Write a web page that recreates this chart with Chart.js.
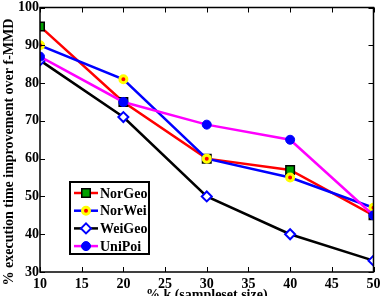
<!DOCTYPE html>
<html>
<head>
<meta charset="utf-8">
<script src="https://cdn.jsdelivr.net/npm/chart.js@4/dist/chart.umd.min.js"></script>
<style>
body { margin: 0; background: white; }
canvas { display: block; }
</style>
</head>
<body>
<canvas id="graphe" width="381" height="296"></canvas>
<script>
// valeurs
const kValues = [10, 20, 30, 40, 50]
const norGeo = [95, 75, 60, 57, 45]
const norWei = [90, 81, 60, 55, 47]
const weiGeo = [86, 71, 50, 40, 33]
const uniPoi = [87, 75, 69, 65, 45]
const nomsSeries = ["NorGeo", "NorWei", "WeiGeo", "UniPoi"]
const titreX = "% k (sampleset size)"
const titreY = "% execution time improvement over f-MMD"

const police = "bold 14px 'Liberation Serif', 'Times New Roman', serif"

function points(valeurs) {
    return kValues.map((k, i) => ({x: k, y: valeurs[i]}))
}

// cadre, petites graduations vers l'interieur et titres des axes
const pluginCadre = {
    id: "cadre",
    afterDraw(chart) {
        let ctx = chart.ctx
        let zone = chart.chartArea
        let sx = chart.scales.x
        let sy = chart.scales.y
        ctx.save()
        ctx.strokeStyle = "black"
        ctx.lineWidth = 1
        sx.ticks.forEach(t => {
            let px = Math.round(sx.getPixelForValue(t.value)) + 0.5
            ctx.beginPath()
            ctx.moveTo(px, zone.bottom); ctx.lineTo(px, zone.bottom - 5)
            ctx.moveTo(px, zone.top); ctx.lineTo(px, zone.top + 5)
            ctx.stroke()
        })
        sy.ticks.forEach(t => {
            let py = Math.round(sy.getPixelForValue(t.value)) + 0.5
            ctx.beginPath()
            ctx.moveTo(zone.left, py); ctx.lineTo(zone.left + 5, py)
            ctx.moveTo(zone.right, py); ctx.lineTo(zone.right - 5, py)
            ctx.stroke()
        })
        ctx.lineWidth = 1.5
        ctx.strokeRect(zone.left, zone.top, zone.right - zone.left, zone.bottom - zone.top)

        ctx.fillStyle = "black"
        ctx.font = police
        ctx.textAlign = "center"
        ctx.textBaseline = "top"
        ctx.fillText(titreX, (zone.left + zone.right) / 2, 288)

        ctx.font = "bold 14px 'Liberation Serif', 'Times New Roman', serif"
        ctx.translate(9, 152)
        ctx.rotate(-Math.PI / 2)
        ctx.textBaseline = "middle"
        ctx.fillText(titreY, 0, 0)
        ctx.restore()

        // legende dessinee a la main : trait + marqueur
        ctx.save()
        let lx = 70, ly = 182, lw = 79, lh = 72
        ctx.fillStyle = "white"
        ctx.fillRect(lx, ly, lw, lh)
        ctx.lineWidth = 2
        ctx.strokeStyle = "black"
        ctx.strokeRect(lx, ly, lw, lh)
        chart.data.datasets.forEach((ds, i) => {
            let y = ly + 11 + i * 17.7
            ctx.strokeStyle = ds.borderColor
            ctx.lineWidth = ds.borderWidth
            ctx.beginPath()
            ctx.moveTo(lx + 4, y); ctx.lineTo(lx + 28, y)
            ctx.stroke()
            ctx.fillStyle = ds.pointBackgroundColor
            ctx.strokeStyle = ds.pointBorderColor
            ctx.lineWidth = ds.pointBorderWidth
            Chart.helpers.drawPoint(ctx, {pointStyle: ds.pointStyle, radius: ds.pointRadius, borderWidth: ds.pointBorderWidth, rotation: 0}, lx + 16, y)
            ctx.fillStyle = "black"
            ctx.font = police
            ctx.textAlign = "left"
            ctx.textBaseline = "middle"
            ctx.fillText(ds.label, lx + 30, y + 1)
        })
        ctx.restore()
    }
}

new Chart(document.getElementById("graphe"), {
    type: "line",
    data: {
        datasets: [
            {
                label: nomsSeries[0],
                data: points(norGeo),
                borderColor: "#ff0000",
                borderWidth: 2.5,
                pointStyle: "rect",
                pointRadius: 6,
                pointBackgroundColor: "#00a000",
                pointBorderColor: "black",
                pointBorderWidth: 1.5,
                order: 3
            },
            {
                label: nomsSeries[1],
                data: points(norWei),
                borderColor: "#0000ff",
                borderWidth: 2.5,
                pointStyle: "circle",
                pointRadius: 3.5,
                pointBackgroundColor: "#ff0000",
                pointBorderColor: "#ffff00",
                pointBorderWidth: 3,
                order: 2
            },
            {
                label: nomsSeries[2],
                data: points(weiGeo),
                borderColor: "black",
                borderWidth: 2.5,
                pointStyle: "rectRot",
                pointRadius: 5,
                pointBackgroundColor: "white",
                pointBorderColor: "#0000ff",
                pointBorderWidth: 2,
                order: 1
            },
            {
                label: nomsSeries[3],
                data: points(uniPoi),
                borderColor: "#ff00ff",
                borderWidth: 2.5,
                pointStyle: "circle",
                pointRadius: 4.5,
                pointBackgroundColor: "#0000ff",
                pointBorderColor: "#0000ff",
                pointBorderWidth: 1,
                order: 0
            }
        ]
    },
    options: {
        responsive: false,
        animation: false,
        layout: {padding: {top: 5, right: 4, left: 0, bottom: 0}},
        plugins: {
            legend: {display: false},
            tooltip: {enabled: false}
        },
        scales: {
            x: {
                type: "linear",
                min: 10,
                max: 50,
                ticks: {stepSize: 5, color: "black", font: {family: "'Liberation Serif'", size: 14, weight: "bold"}, padding: 4, maxRotation: 0},
                grid: {display: false, drawTicks: false},
                border: {display: false},
                afterFit(scale) {
                    scale.height = 24
                    scale.paddingLeft = 0
                    scale.paddingRight = 0
                }
            },
            y: {
                min: 30,
                max: 100,
                ticks: {stepSize: 10, color: "black", font: {family: "'Liberation Serif'", size: 14, weight: "bold"}, padding: 1},
                grid: {display: false, drawTicks: false},
                border: {display: false},
                afterFit(scale) {
                    scale.width = 40
                    scale.paddingTop = 0
                    scale.paddingBottom = 0
                }
            }
        }
    },
    plugins: [pluginCadre]
})
</script>
</body>
</html>
